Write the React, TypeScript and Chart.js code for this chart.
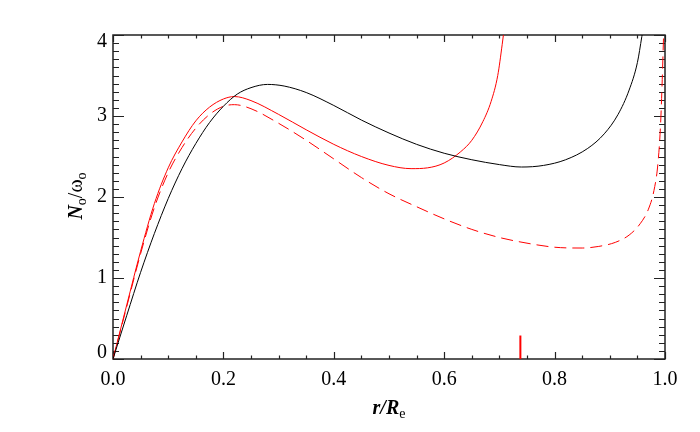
import React, { useEffect, useRef } from "react";
import { Chart, registerables } from "chart.js";

Chart.register(...registerables);

// ---- data ----
const xTickValues = [0, 0.2, 0.4, 0.6, 0.8, 1.0];
const yTickValues = [0, 1, 2, 3, 4];
const xMinorPerMajor = 4;
const yMinorPerMajor = 10;

const blackR = [0, 0.025, 0.05, 0.075, 0.1, 0.125, 0.15, 0.175, 0.2, 0.225, 0.25, 0.28, 0.31, 0.35, 0.4, 0.45, 0.5, 0.55, 0.6, 0.65, 0.7, 0.74, 0.78, 0.82, 0.86, 0.89, 0.915, 0.935, 0.95, 0.958, 0.963];
const blackN = [0, 0.54, 1.07, 1.55, 1.98, 2.35, 2.66, 2.92, 3.12, 3.27, 3.35, 3.39, 3.37, 3.29, 3.13, 2.95, 2.79, 2.65, 2.54, 2.46, 2.40, 2.37, 2.39, 2.46, 2.60, 2.78, 3.02, 3.32, 3.66, 3.98, 4.2];

const redR = [0, 0.025, 0.05, 0.075, 0.1, 0.125, 0.15, 0.175, 0.2, 0.22, 0.25, 0.3, 0.35, 0.4, 0.45, 0.5, 0.54, 0.57, 0.6, 0.63, 0.65, 0.67, 0.685, 0.697, 0.705, 0.71];
const redN = [0, 0.67, 1.33, 1.92, 2.36, 2.68, 2.94, 3.11, 3.21, 3.24, 3.19, 3.02, 2.83, 2.65, 2.50, 2.39, 2.35, 2.36, 2.42, 2.56, 2.70, 2.93, 3.18, 3.5, 3.88, 4.15];

const dashR = [0, 0.025, 0.05, 0.075, 0.1, 0.125, 0.15, 0.175, 0.2, 0.22, 0.25, 0.3, 0.35, 0.4, 0.45, 0.5, 0.55, 0.6, 0.65, 0.7, 0.75, 0.8, 0.85, 0.88, 0.91, 0.935, 0.955, 0.97, 0.98, 0.987, 0.992, 0.995, 0.997, 0.999];
const dashN = [0, 0.65, 1.30, 1.87, 2.30, 2.61, 2.85, 3.02, 3.12, 3.14, 3.09, 2.91, 2.70, 2.47, 2.24, 2.04, 1.88, 1.73, 1.60, 1.50, 1.43, 1.38, 1.37, 1.39, 1.44, 1.53, 1.67, 1.85, 2.08, 2.4, 2.9, 3.45, 3.9, 4.4];

const markerR = [0.738, 0.738];
const markerN = [0, 0.29];

const toPts = (xs: number[], ys: number[]) => xs.map((x, i) => ({ x, y: ys[i] }));

const SERIF = "'Liberation Serif', 'Times New Roman', serif";

type Part = { text: string; font: string; dy: number };

function richWidth(ctx: CanvasRenderingContext2D, parts: Part[]) {
  let w = 0;
  for (const p of parts) {
    ctx.font = p.font;
    w += ctx.measureText(p.text).width;
  }
  return w;
}

function drawRich(ctx: CanvasRenderingContext2D, parts: Part[], x: number, y: number) {
  let cx = x;
  for (const p of parts) {
    ctx.font = p.font;
    ctx.fillText(p.text, cx, y + p.dy);
    cx += ctx.measureText(p.text).width;
  }
}

const framePlugin = {
  id: "frame",
  beforeDatasetsDraw(chart: any) {
    const { ctx, chartArea: a, scales } = chart;
    const xs = scales.x;
    const ys = scales.y;
    ctx.save();
    ctx.strokeStyle = "#222";
    ctx.lineWidth = 1.5;
    ctx.strokeRect(a.left, a.top, a.right - a.left, a.bottom - a.top);
    ctx.lineWidth = 1.2;
    ctx.beginPath();
    const xStep = (xTickValues[1] - xTickValues[0]) / xMinorPerMajor;
    const xCount = Math.round((xTickValues[xTickValues.length - 1] - xTickValues[0]) / xStep);
    for (let i = 0; i <= xCount; i++) {
      const v = xTickValues[0] + i * xStep;
      const px = Math.round(xs.getPixelForValue(v)) + 0.5;
      const L = i % xMinorPerMajor === 0 ? 7 : 3.5;
      ctx.moveTo(px, a.bottom);
      ctx.lineTo(px, a.bottom - L);
      ctx.moveTo(px, a.top);
      ctx.lineTo(px, a.top + L);
    }
    const yStep = (yTickValues[1] - yTickValues[0]) / yMinorPerMajor;
    const yCount = Math.round((yTickValues[yTickValues.length - 1] - yTickValues[0]) / yStep);
    for (let i = 0; i <= yCount; i++) {
      const v = yTickValues[0] + i * yStep;
      const py = Math.round(ys.getPixelForValue(v)) + 0.5;
      const L = i % yMinorPerMajor === 0 ? 11 : 6;
      ctx.moveTo(a.left, py);
      ctx.lineTo(a.left + L, py);
      ctx.moveTo(a.right, py);
      ctx.lineTo(a.right - L, py);
    }
    ctx.stroke();
    ctx.restore();
  },
  afterDraw(chart: any) {
    const { ctx, chartArea: a, scales } = chart;
    const ys = scales.y;
    ctx.save();
    ctx.fillStyle = "#000";
    ctx.font = `20px ${SERIF}`;
    ctx.textAlign = "right";
    ctx.textBaseline = "middle";
    for (const v of yTickValues) {
      let py = ys.getPixelForValue(v);
      py = Math.min(Math.max(py, a.top + 7), a.bottom - 6);
      ctx.fillText(String(v), a.left - 6, py);
    }
    ctx.textAlign = "left";
    ctx.textBaseline = "alphabetic";
    const xParts: Part[] = [
      { text: "r", font: `bold italic 20px ${SERIF}`, dy: 0 },
      { text: "/", font: `bold italic 20px ${SERIF}`, dy: 0 },
      { text: "R", font: `bold italic 20px ${SERIF}`, dy: 0 },
      { text: "e", font: `14px ${SERIF}`, dy: 4 },
    ];
    const xw = richWidth(ctx, xParts);
    const xc = (a.left + a.right) / 2;
    drawRich(ctx, xParts, xc - xw / 2, 414);
    const yParts: Part[] = [
      { text: "N", font: `bold italic 20px ${SERIF}`, dy: 0 },
      { text: "o", font: `14px ${SERIF}`, dy: 4 },
      { text: "/", font: `20px ${SERIF}`, dy: 0 },
      { text: "ω", font: `20px ${SERIF}`, dy: 0 },
      { text: "o", font: `14px ${SERIF}`, dy: 4 },
    ];
    const yw = richWidth(ctx, yParts);
    ctx.translate(82, 196);
    ctx.rotate(-Math.PI / 2);
    drawRich(ctx, yParts, -yw / 2, 0);
    ctx.restore();
  },
};

export default function App() {
  const ref = useRef<HTMLCanvasElement | null>(null);
  useEffect(() => {
    if (!ref.current) return;
    const chart = new Chart(ref.current, {
      type: "line",
      data: {
        datasets: [
          {
            label: "black",
            data: toPts(blackR, blackN),
            borderColor: "#000",
            borderWidth: 1,
            pointRadius: 0,
            cubicInterpolationMode: "monotone",
          },
          {
            label: "red",
            data: toPts(redR, redN),
            borderColor: "#ff0000",
            borderWidth: 1,
            pointRadius: 0,
            cubicInterpolationMode: "monotone",
          },
          {
            label: "red dashed",
            data: toPts(dashR, dashN),
            borderColor: "#ff0000",
            borderWidth: 1,
            borderDash: [12, 6],
            pointRadius: 0,
            cubicInterpolationMode: "monotone",
          },
          {
            label: "marker",
            data: toPts(markerR, markerN),
            borderColor: "#ff0000",
            borderWidth: 2,
            pointRadius: 0,
          },
        ],
      },
      options: {
        responsive: false,
        animation: false,
        devicePixelRatio: 1,
        layout: { padding: { top: 35, right: 35, left: 0, bottom: 0 } },
        plugins: { legend: { display: false }, tooltip: { enabled: false } },
        scales: {
          x: {
            type: "linear",
            position: "bottom",
            min: 0,
            max: 1,
            grid: { display: false, drawTicks: false },
            border: { display: false },
            ticks: {
              stepSize: 0.2,
              autoSkip: false,
              maxRotation: 0,
              padding: 9,
              color: "#000",
              font: { family: SERIF, size: 20 },
              callback: (v: any) => Number(v).toFixed(1),
            },
            afterFit: (s: any) => {
              s.height = 73;
            },
          },
          y: {
            type: "linear",
            position: "left",
            min: 0,
            max: 4,
            grid: { display: false, drawTicks: false },
            border: { display: false },
            ticks: { display: false, stepSize: 1 },
            afterFit: (s: any) => {
              s.width = 113;
            },
          },
        },
      },
      plugins: [framePlugin],
    } as any);
    return () => chart.destroy();
  }, []);
  return (
    <div style={{ position: "absolute", left: 0, top: 0, width: 700, height: 432 }}>
      <canvas ref={ref} width={700} height={432} style={{ display: "block" }} />
    </div>
  );
}
